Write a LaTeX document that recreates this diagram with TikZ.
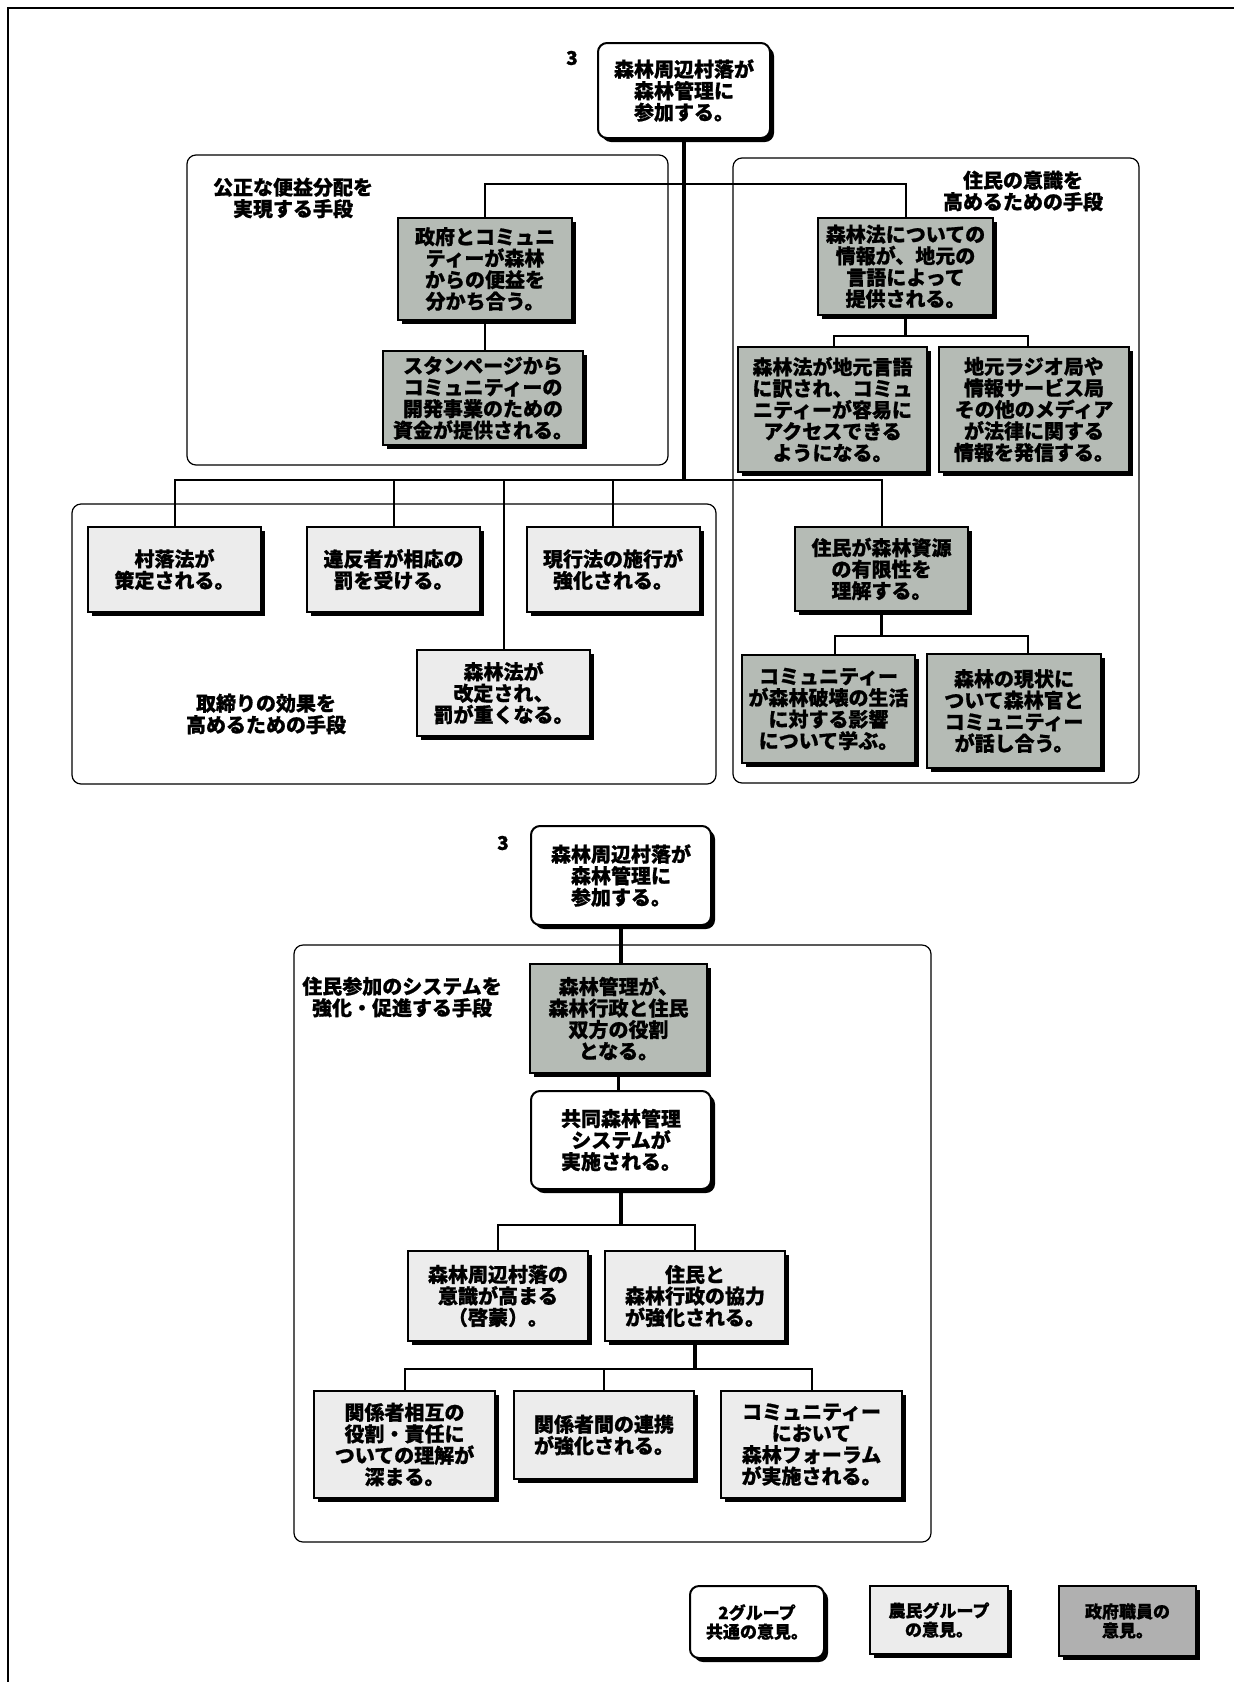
\documentclass[tikz,border=0pt]{standalone}
\usepackage{fontspec}
\usepackage{xcolor}
\usepackage{tikz}
\usetikzlibrary{shadows}
\newfontfamily\jpfont{Noto Sans CJK JP}[BoldFeatures={FakeBold=0.8}]
\newcommand\boxfont{\jpfont\bfseries\fontsize{20}{21.5}\selectfont}
\newcommand\keyfont{\jpfont\bfseries\fontsize{17}{19}\selectfont}
\newcommand\numfont{\jpfont\bfseries\fontsize{19}{19}\selectfont}
\definecolor{govgray}{RGB}{181,187,181}
\definecolor{keygray}{RGB}{176,176,176}
\definecolor{farmergray}{RGB}{236,236,236}

\tikzset{
    box/.style={draw, line width=2pt, inner sep=0pt, align=center, font=\boxfont,
        drop shadow={shadow xshift=4pt, shadow yshift=-4pt, fill=black, opacity=1}},
    both/.style={box, fill=white, rounded corners=9pt},
    farmer/.style={box, fill=farmergray},
    gov/.style={box, fill=govgray},
    sz/.style 2 args={minimum width=#1pt, minimum height=#2pt},
    grp/.style={draw, line width=1.2pt, rounded corners=9pt},
    grplabel/.style={align=center, font=\boxfont, inner sep=0pt},
    num/.style={font=\numfont, inner sep=0pt},
    trunk/.style={line width=3.5pt},
    branch/.style={line width=2pt}
}

\begin{document}
\begin{tikzpicture}[x=1pt, y=-1pt]
    \useasboundingbox (0,0) rectangle (1234,1682);
    \draw[line width=2pt] (1234,8) -- (8,8) -- (8,1682);

    % upper chart: groups
    \draw[grp] (187,155) rectangle (668,465);
    \draw[grp] (733,158) rectangle (1139,783);
    \draw[grp] (72,504) rectangle (716,784);
    \node[grplabel] (lgLabel) at (293,198) {公正な便益分配を\\実現する手段};
    \node[grplabel] (rgLabel) at (1023,191) {住民の意識を\\高めるための手段};
    \node[grplabel] (blLabel) at (266,714) {取締りの効果を\\高めるための手段};

    % upper chart: boxes
    \node[num] (numA) at (572,58) {3};
    \node[both, sz={172}{95}] (A) at (684,90.5) {森林周辺村落が\\森林管理に\\参加する。};
    \node[gov, sz={174}{102}] (gov1) at (485,269) {政府とコミュニ\\ティーが森林\\からの便益を\\分かち合う。};
    \node[gov, sz={200}{94}] (stan) at (483,398) {スタンページから\\コミュニティーの\\開発事業のための\\資金が提供される。};
    \node[gov, sz={175}{97}] (info) at (905.5,266.5) {森林法についての\\情報が、地元の\\言語によって\\提供される。};
    \node[gov, sz={189}{125}] (trans) at (832.5,409.5) {森林法が地元言語\\に訳され、コミュ\\ニティーが容易に\\アクセスできる\\ようになる。};
    \node[gov, sz={190}{125}] (radio) at (1034,409.5) {地元ラジオ局や\\情報サービス局\\その他のメディア\\が法律に関する\\情報を発信する。};
    \node[farmer, sz={173}{85}] (vil) at (174.5,569.5) {村落法が\\策定される。};
    \node[farmer, sz={173}{85}] (pen) at (393.5,569.5) {違反者が相応の\\罰を受ける。};
    \node[farmer, sz={173}{85}] (enf) at (613,569.5) {現行法の施行が\\強化される。};
    \node[farmer, sz={173}{86}] (rev) at (503.5,693) {森林法が\\改定され、\\罰が重くなる。};
    \node[gov, sz={173}{84}] (limit) at (881.5,569) {住民が森林資源\\の有限性を\\理解する。};
    \node[gov, sz={173}{108}] (learn) at (828.5,709) {コミュニティー\\が森林破壊の生活\\に対する影響\\について学ぶ。};
    \node[gov, sz={174}{114}] (talk) at (1014,711) {森林の現状に\\ついて森林官と\\コミュニティー\\が話し合う。};

    % upper chart: connectors
    \coordinate (topbar) at (684,184);
    \coordinate (lowbar) at (684,480);
    \draw[trunk] (A.south) -- (lowbar);
    \draw[branch] (gov1.north) |- (topbar) -| (info.north);
    \draw[branch] (gov1.south) -- (gov1.south |- stan.north);
    \draw[trunk] (info.south) -- ++(0,20) coordinate (infobar);
    \draw[branch] ([xshift=1pt]trans.north) |- (infobar) -| ([xshift=-6pt]radio.north);
    \draw[branch] (vil.north) |- (lowbar) -| (limit.north);
    \foreach \n in {pen,enf,rev}
        \draw[branch] (\n.north) -- (\n.north |- lowbar);
    \draw[trunk] (limit.south) -- ++(0,24) coordinate (limitbar);
    \draw[branch] ([xshift=6pt]learn.north) |- (limitbar) -| ([xshift=14pt]talk.north);

    % lower chart
    \draw[grp] (294,945) rectangle (931,1542);
    \node[grplabel] (bgLabel) at (402,997) {住民参加のシステムを\\強化・促進する手段};
    \node[num] (numB) at (503,843) {3};
    \node[both, sz={180}{99}] (B) at (621,875.5) {森林周辺村落が\\森林管理に\\参加する。};
    \node[gov, sz={177}{109}] (C) at (618.5,1018.5) {森林管理が、\\森林行政と住民\\双方の役割\\となる。};
    \node[both, sz={180}{98}] (D) at (621,1140) {共同森林管理\\システムが\\実施される。};
    \node[farmer, sz={180}{90}] (E) at (498,1296) {森林周辺村落の\\意識が高まる\\（啓蒙）。};
    \node[farmer, sz={180}{90}] (F) at (695,1296) {住民と\\森林行政の協力\\が強化される。};
    \node[farmer, sz={181}{107}] (G) at (404.5,1444.5) {関係者相互の\\役割・責任に\\ついての理解が\\深まる。};
    \node[farmer, sz={180}{88}] (H) at (604,1435) {関係者間の連携\\が強化される。};
    \node[farmer, sz={181}{107}] (I) at (811.5,1444.5) {コミュニティー\\において\\森林フォーラム\\が実施される。};

    \draw[trunk] (B.south) -- (B.south |- C.north);
    \draw[trunk] (C.south) -- (C.south |- D.north);
    \draw[trunk] (D.south) -- ++(0,35) coordinate (dbar);
    \draw[branch] (E.north) |- (dbar) -| (F.north);
    \draw[trunk] (F.south) -- ++(0,27) coordinate (fbar);
    \draw[branch] (G.north) |- (fbar) -| (I.north);
    \draw[branch] (H.north) -- (H.north |- fbar);

    % key
    \node[both, font=\keyfont, sz={134}{72}] (keyBoth) at (757,1622) {2グループ\\共通の意見。};
    \node[farmer, font=\keyfont, sz={138}{68}] (keyFarmer) at (939,1620) {農民グループ\\の意見。};
    \node[box, fill=keygray, font=\keyfont, sz={137}{70}] (keyGov) at (1127.5,1621) {政府職員の\\意見。};
\end{tikzpicture}
\end{document}
